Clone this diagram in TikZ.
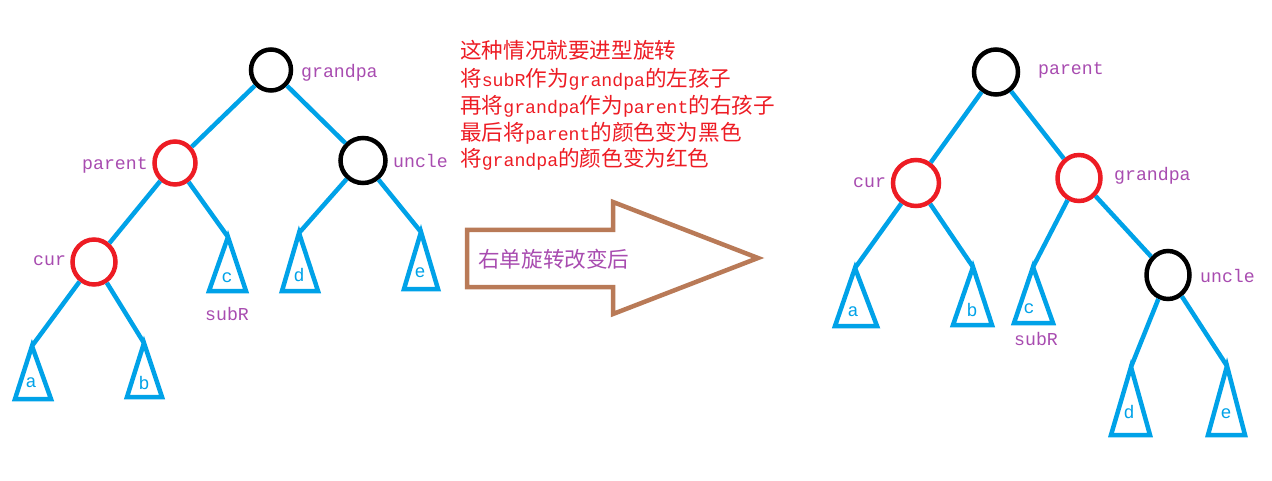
\documentclass[tikz,border=0pt]{standalone}
\usepackage{fontspec}
\usetikzlibrary{shapes.geometric}
\newfontfamily\cjkf{Noto Sans CJK SC}
\newfontfamily\monof{Liberation Mono}
\definecolor{tblue}{RGB}{0,162,232}
\definecolor{tred}{RGB}{237,28,36}
\definecolor{tpurple}{RGB}{168,76,176}
\definecolor{tbrown}{RGB}{185,122,87}
\newcommand\Cj[1]{{\cjkf\fontsize{21.6}{24}\selectfont #1}}
\newcommand\Mo[1]{{\monof\fontsize{18.2}{22}\selectfont #1}}
\tikzset{
  rb/.style={ellipse, draw, line width=4.5pt, inner sep=0pt},
  rednode/.style={rb, draw=tred},
  blacknode/.style={rb, draw=black},
  link/.style={draw=tblue, line width=4.5pt},
  tri/.style={draw=tblue, line width=4.5pt, line join=miter},
  lbl/.style={text=tpurple, font=\monof\fontsize{18.2}{22}\selectfont, inner sep=0pt, anchor=mid west, yshift=-3pt},
  leaf/.style={text=tblue, font=\monof\fontsize{18.2}{22}\selectfont, inner sep=0pt, anchor=mid, yshift=-3pt},
  note/.style={text=tred, inner sep=0pt, anchor=base west},
  bigarrow/.style={draw=tbrown, line width=4.5pt, line join=miter}
}
\begin{document}
\begin{tikzpicture}[x=1pt,y=-1pt]
\useasboundingbox (0,0) rectangle (1272,481);

% ---------- left tree ----------
\node[blacknode, minimum width=40pt, minimum height=41pt] (gpL) at (271,70) {};
\node[rednode, minimum width=41pt, minimum height=43pt] (parL) at (175,163) {};
\node[blacknode, minimum width=45pt, minimum height=45pt] (unL) at (363,160.5) {};
\node[rednode, minimum width=43pt, minimum height=45pt] (curL) at (94,262) {};

\coordinate (aL) at (32,346);
\coordinate (bL) at (144,343);
\coordinate (cL) at (228,237);
\coordinate (dL) at (299,233);
\coordinate (eL) at (421,232);

\draw[link] (gpL) -- (parL);
\draw[link] (gpL) -- (unL);
\draw[link] (parL) -- (curL);
\draw[link] (parL) -- (cL);
\draw[link] (unL) -- (dL);
\draw[link] (unL) -- (eL);
\draw[link] (curL) -- (aL);
\draw[link] (curL) -- (bL);

\draw[tri] (aL) -- (15,399) -- (51,399) -- cycle;
\draw[tri] (bL) -- (127,397) -- (162,397) -- cycle;
\draw[tri] (cL) -- (209,291) -- (246,291) -- cycle;
\draw[tri] (dL) -- (282,291) -- (318,291) -- cycle;
\draw[tri] (eL) -- (404,289) -- (438,289) -- cycle;

\node[leaf] (laL) at (31,382) {a};
\node[leaf] (lbL) at (144,384) {b};
\node[leaf] (lcL) at (227,277) {c};
\node[leaf] (ldL) at (299,276) {d};
\node[leaf] (leL) at (420,272) {e};

\node[lbl] (tgpL) at (301,72) {grandpa};
\node[lbl] (tparL) at (82,164) {parent};
\node[lbl] (tunL) at (393,162) {uncle};
\node[lbl] (tcurL) at (33,260) {cur};
\node[lbl] (tsubL) at (205,315) {subR};

% ---------- note text ----------
\node[note] (n1) at (460,59) {\Cj{这种情况就要进型旋转}};
\node[note] (n2) at (460,87) {\Cj{将}\Mo{subR}\Cj{作为}\Mo{grandpa}\Cj{的左孩子}};
\node[note] (n3) at (460,114) {\Cj{再将}\Mo{grandpa}\Cj{作为}\Mo{parent}\Cj{的右孩子}};
\node[note] (n4) at (460,141) {\Cj{最后将}\Mo{parent}\Cj{的颜色变为黑色}};
\node[note] (n5) at (460,167) {\Cj{将}\Mo{grandpa}\Cj{的颜色变为红色}};

% ---------- arrow ----------
\draw[bigarrow] (467,230) -- (613,230) -- (613,202) -- (758,258) -- (613,314) -- (613,287) -- (467,287) -- cycle;
\node[note, text=tpurple] (arrtxt) at (478,267) {\Cj{右单旋转改变后}};

% ---------- right tree ----------
\node[blacknode, minimum width=44pt, minimum height=45pt] (parR) at (996,72) {};
\node[rednode, minimum width=46pt, minimum height=46pt] (curR) at (916,183) {};
\node[rednode, minimum width=43pt, minimum height=46pt] (gpR) at (1079,178) {};
\node[blacknode, minimum width=43pt, minimum height=48pt] (unR) at (1168,275) {};

\coordinate (aR) at (855,268);
\coordinate (bR) at (973,267);
\coordinate (cR) at (1033,267);
\coordinate (dR) at (1131,367);
\coordinate (eR) at (1227,366);

\draw[link] (parR) -- (curR);
\draw[link] (parR) -- (gpR);
\draw[link] (curR) -- (aR);
\draw[link] (curR) -- (bR);
\draw[link] (gpR) -- (cR);
\draw[link] (gpR) -- (unR);
\draw[link] (unR) -- (dR);
\draw[link] (unR) -- (eR);

\draw[tri] (aR) -- (835,326) -- (877,326) -- cycle;
\draw[tri] (bR) -- (953,325) -- (992,325) -- cycle;
\draw[tri] (cR) -- (1014,323) -- (1053,323) -- cycle;
\draw[tri] (dR) -- (1111,435) -- (1150,435) -- cycle;
\draw[tri] (eR) -- (1208,435) -- (1245,435) -- cycle;

\node[leaf] (laR) at (853,311) {a};
\node[leaf] (lbR) at (972,311) {b};
\node[leaf] (lcR) at (1029,308) {c};
\node[leaf] (ldR) at (1129,413) {d};
\node[leaf] (leR) at (1226,413) {e};

\node[lbl] (tparR) at (1038,69) {parent};
\node[lbl] (tcurR) at (853,182) {cur};
\node[lbl] (tgpR) at (1114,175) {grandpa};
\node[lbl] (tunR) at (1200,277) {uncle};
\node[lbl] (tsubR) at (1014,340) {subR};
\end{tikzpicture}
\end{document}
